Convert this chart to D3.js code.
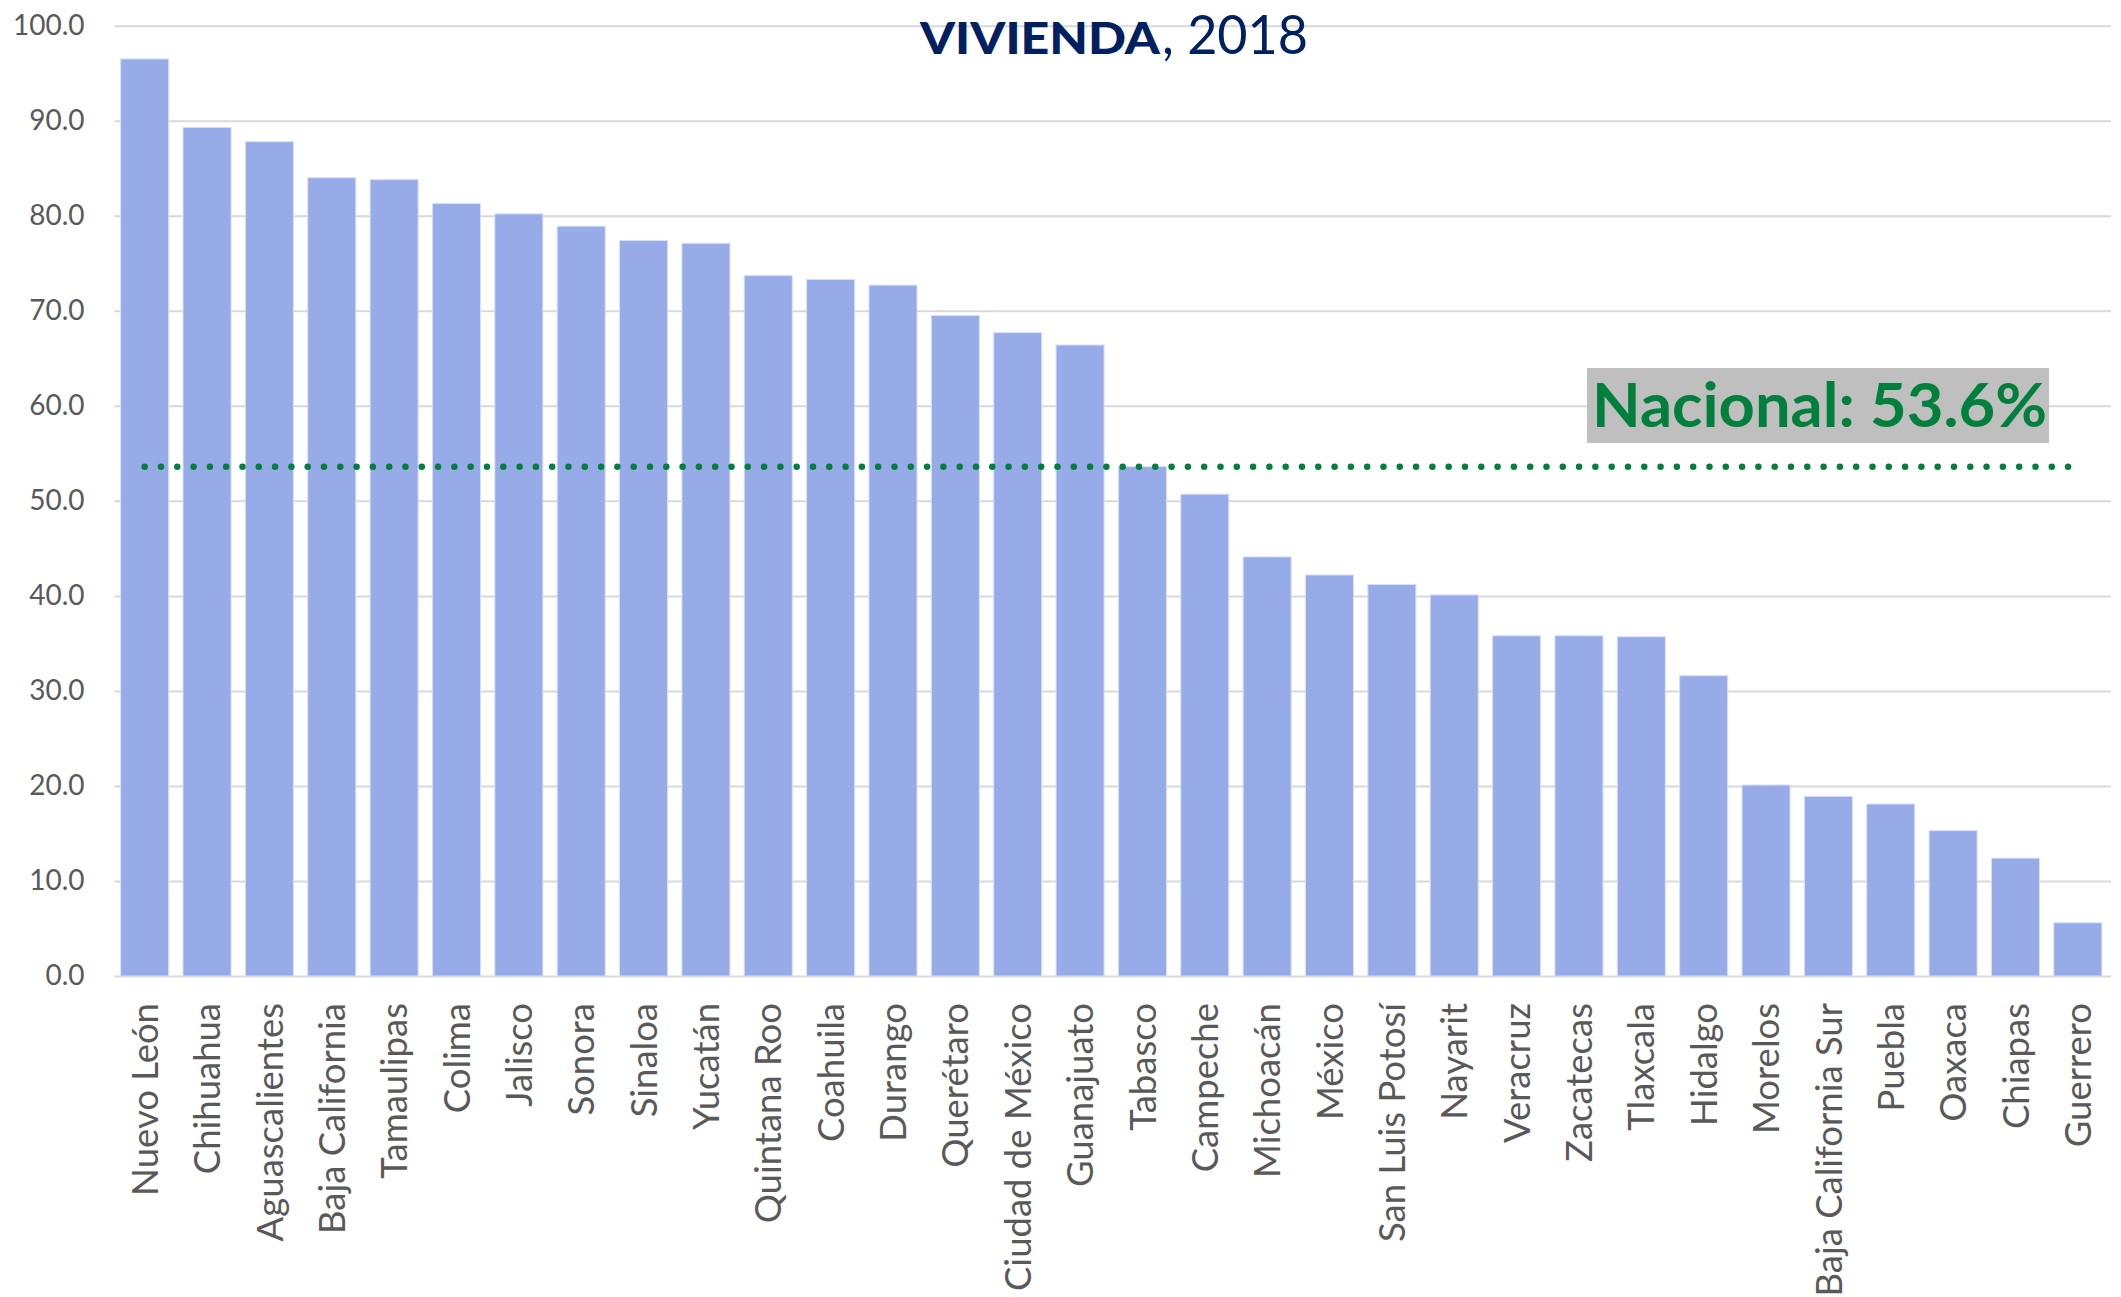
<!DOCTYPE html>
<html>
<head>
<meta charset="utf-8">
<script src="https://cdn.jsdelivr.net/npm/d3@7"></script>
<style>
  body { margin: 0; background: #ffffff; }
  svg { display: block; }
</style>
</head>
<body>
<div id="chart"></div>
<script>
// datos
const estados = ["Nuevo León", "Chihuahua", "Aguascalientes", "Baja California", "Tamaulipas", "Colima",
    "Jalisco", "Sonora", "Sinaloa", "Yucatán", "Quintana Roo", "Coahuila", "Durango", "Querétaro",
    "Ciudad de México", "Guanajuato", "Tabasco", "Campeche", "Michoacán", "México", "San Luis Potosí",
    "Nayarit", "Veracruz", "Zacatecas", "Tlaxcala", "Hidalgo", "Morelos", "Baja California Sur",
    "Puebla", "Oaxaca", "Chiapas", "Guerrero"];
const valores = [96.5, 89.3, 87.8, 84.0, 83.8, 81.3, 80.2, 78.9, 77.4, 77.1, 73.7, 73.3, 72.7, 69.5,
    67.7, 66.4, 53.6, 50.7, 44.1, 42.2, 41.2, 40.1, 35.8, 35.8, 35.7, 31.6, 20.1, 18.9, 18.1, 15.3, 12.4, 5.6];
const nacional = 53.6;
const yTicks = [0, 10, 20, 30, 40, 50, 60, 70, 80, 90, 100];

const width = 2121, height = 1297;
const margin = {left: 113.5, right: 2109, top: 25.7, bottom: 976};

const svg = d3.select("#chart").append("svg")
    .attr("width", width)
    .attr("height", height);

const x = d3.scaleBand()
    .domain(estados)
    .range([margin.left, margin.right])
    .paddingInner(0.23)
    .paddingOuter(0.115);

const y = d3.scaleLinear()
    .domain([0, 100])
    .range([margin.bottom, margin.top]);

// gridlines + y labels
const yAxis = d3.axisLeft(y)
    .tickValues(yTicks)
    .tickFormat(d3.format(".1f"))
    .tickSize(-(margin.right - margin.left + 1))
    .tickPadding(30);

const gy = svg.append("g")
    .attr("transform", "translate(" + (margin.left + 1) + ",0)")
    .call(yAxis);
gy.select(".domain").remove();
gy.selectAll(".tick line")
    .attr("stroke", "#d9d9d9")
    .attr("stroke-width", 2);
gy.selectAll(".tick text")
    .attr("fill", "#595959")
    .style("font-family", "Lato, 'Open Sans', sans-serif")
    .style("font-size", "28px");

// bars
svg.append("g").selectAll("rect")
    .data(valores)
    .join("rect")
    .attr("x", (d, i) => x(estados[i]))
    .attr("y", d => y(d))
    .attr("width", x.bandwidth())
    .attr("height", d => y(0) - y(d))
    .attr("fill", "#96abe8")
    .attr("stroke", "#d6dff8")
    .attr("stroke-width", 1);

// x labels
const xAxis = d3.axisBottom(x).tickSize(0).tickPadding(0);
const gx = svg.append("g")
    .attr("transform", "translate(0," + margin.bottom + ")")
    .call(xAxis);
gx.select(".domain").remove();
gx.selectAll(".tick text")
    .attr("fill", "#595959")
    .style("font-family", "Lato, 'Open Sans', sans-serif")
    .style("font-size", "36.5px")
    .attr("text-anchor", "end")
    .attr("transform", "rotate(-90)")
    .attr("x", -27)
    .attr("y", 0)
    .attr("dy", "0.36em");

// linea nacional (punteada)
const xFirst = x(estados[0]) + x.bandwidth() / 2;
const xLast = x(estados[estados.length - 1]) + x.bandwidth() / 2 - 4;
svg.append("line")
    .attr("x1", xFirst)
    .attr("x2", xLast)
    .attr("y1", y(nacional))
    .attr("y2", y(nacional))
    .attr("stroke", "#00803c")
    .attr("stroke-width", 6.5)
    .attr("stroke-linecap", "round")
    .attr("stroke-dasharray", "0 16.3");

// etiqueta nacional
svg.append("rect")
    .attr("x", 1587)
    .attr("y", 368)
    .attr("width", 462)
    .attr("height", 75)
    .attr("fill", "#bfbfbf");

svg.append("text")
    .text("Nacional: " + nacional.toFixed(1) + "%")
    .attr("x", 1592)
    .attr("y", 427)
    .attr("fill", "#00803c")
    .attr("textLength", 455)
    .attr("lengthAdjust", "spacingAndGlyphs")
    .style("font-family", "Lato, 'Open Sans', sans-serif")
    .style("font-weight", "bold")
    .style("font-size", "61px");

// titulo
svg.append("text")
    .text("VIVIENDA")
    .attr("x", 920)
    .attr("y", 54)
    .attr("fill", "#002060")
    .attr("textLength", 240)
    .attr("lengthAdjust", "spacingAndGlyphs")
    .style("font-family", "Lato, 'Open Sans', sans-serif")
    .style("font-weight", "900")
    .style("font-size", "43px");

svg.append("text")
    .text(", 2018")
    .attr("x", 1162)
    .attr("y", 54)
    .attr("fill", "#002060")
    .attr("textLength", 146)
    .attr("lengthAdjust", "spacingAndGlyphs")
    .style("font-family", "Lato, 'Open Sans', sans-serif")
    .style("font-size", "54px");
</script>
</body>
</html>
